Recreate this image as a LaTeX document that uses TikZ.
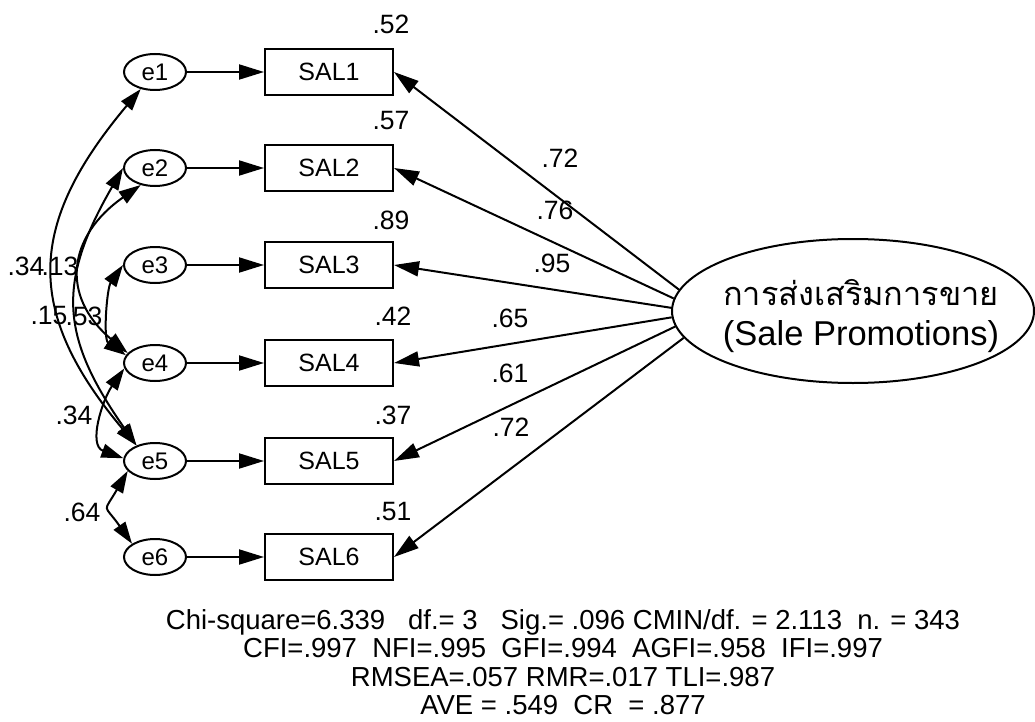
\documentclass[tikz,border=0pt]{standalone}
\usepackage{fontspec}
\setmainfont{Liberation Sans}
\newfontfamily\thaifont[Script=Thai]{Loma}
\usetikzlibrary{arrows.meta,shapes.geometric}

\begin{document}
\begin{tikzpicture}[x=1pt,y=1pt,
  lw/.style={line width=2pt},
  obsbox/.style={draw,lw,minimum width=128pt,minimum height=46pt,inner sep=0pt,
    font=\fontsize{25}{29}\selectfont},
  errnode/.style={draw,lw,ellipse,minimum width=62pt,minimum height=36pt,inner sep=0pt,
    font=\fontsize{24}{28}\selectfont},
  latent/.style={draw,lw,ellipse,minimum width=362pt,minimum height=144pt,inner sep=0pt},
  est/.style={font=\fontsize{26.5}{30}\selectfont,inner sep=0pt},
  onearrow/.style={lw,-{Triangle[length=25pt,width=15pt]}},
  twoarrow/.style={lw,{Triangle[length=22pt,width=14pt]}-{Triangle[length=22pt,width=14pt]}},
]
\useasboundingbox (0,0) rectangle (1035,-722);

% error terms and observed indicators
\node[errnode] (e1) at (155,-72)  {e1};
\node[errnode] (e2) at (155,-168) {e2};
\node[errnode] (e3) at (155,-265) {e3};
\node[errnode] (e4) at (155,-363) {e4};
\node[errnode] (e5) at (155,-461) {e5};
\node[errnode] (e6) at (155,-557) {e6};

\node[obsbox] (s1) at (329,-72)  {SAL1};
\node[obsbox] (s2) at (329,-168) {SAL2};
\node[obsbox] (s3) at (329,-265) {SAL3};
\node[obsbox] (s4) at (329,-363) {SAL4};
\node[obsbox] (s5) at (329,-461) {SAL5};
\node[obsbox] (s6) at (329,-557) {SAL6};

\foreach \i in {1,...,6} \draw[onearrow] (e\i) -- (s\i);

% squared multiple correlations
\node[est] (r1) at (391,-24)  {.52};
\node[est] (r2) at (391,-121) {.57};
\node[est] (r3) at (391,-220) {.89};
\node[est] (r4) at (393,-316) {.42};
\node[est] (r5) at (393,-415) {.37};
\node[est] (r6) at (393,-512) {.51};

% latent factor
\node[latent] (F) at (853,-311) {};
\node[inner sep=0pt,align=center,font=\fontsize{34.5}{40}\selectfont] (Ft) at (861,-316)
  {{\thaifont\fontsize{32.5}{40}\selectfont การส่งเสริมการขาย}\\(Sale Promotions)};

% factor loadings
\draw[onearrow] (F.173) -- (s1.east);
\draw[onearrow] (F.176) -- (s2.east);
\draw[onearrow] (F.179) -- (s3.east);
\draw[onearrow] (F.182) -- (s4.east);
\draw[onearrow] (F.185) -- (s5.east);
\draw[onearrow] (F.189) -- (s6.east);

\node[est] (l1) at (560,-158) {.72};
\node[est] (l2) at (555,-210) {.76};
\node[est] (l3) at (552,-263) {.95};
\node[est] (l4) at (510,-318) {.65};
\node[est] (l5) at (510,-373) {.61};
\node[est] (l6) at (511,-427) {.72};

% error covariances
\draw[twoarrow] (e1.230) .. controls +(230:176) and +(130:176) .. (e5.140);
\draw[twoarrow] (e2.180) .. controls +(240:133) and +(125:133) .. (e5.140);
\draw[twoarrow] (e2.230) .. controls +(215:89) and +(140:89) .. (e4.160);
\draw[twoarrow] (e3.180) .. controls +(235:28) and +(145:28) .. (e4.165);
\draw[twoarrow] (e4.190) .. controls +(235:38) and +(160:38) .. (e5.175);
\draw[twoarrow] (e5.200) .. controls +(240:50) and +(125:50) .. (e6.150);

\node[est] (c1) at (26,-266)  {.34};
\node[est] (c2) at (60,-266)  {.13};
\node[est] (c3) at (49,-316)  {.15};
\node[est] (c4) at (84,-316)  {.53};
\node[est] (c5) at (74,-415)  {.34};
\node[est] (c6) at (82,-512)  {.64};

% fit statistics
\node[inner sep=0pt,align=center,font=\fontsize{27.5}{28.5}\selectfont] (fit) at (563,-662)
  {Chi-square=6.339 \ \ df.= 3 \ \ Sig.= .096 CMIN/df. = 2.113 \ n. = 343\\
   CFI=.997 \ NFI=.995 \ GFI=.994 \ AGFI=.958 \ IFI=.997\\
   RMSEA=.057 RMR=.017 TLI=.987\\
   AVE = .549 \ CR \ = .877};
\end{tikzpicture}
\end{document}
